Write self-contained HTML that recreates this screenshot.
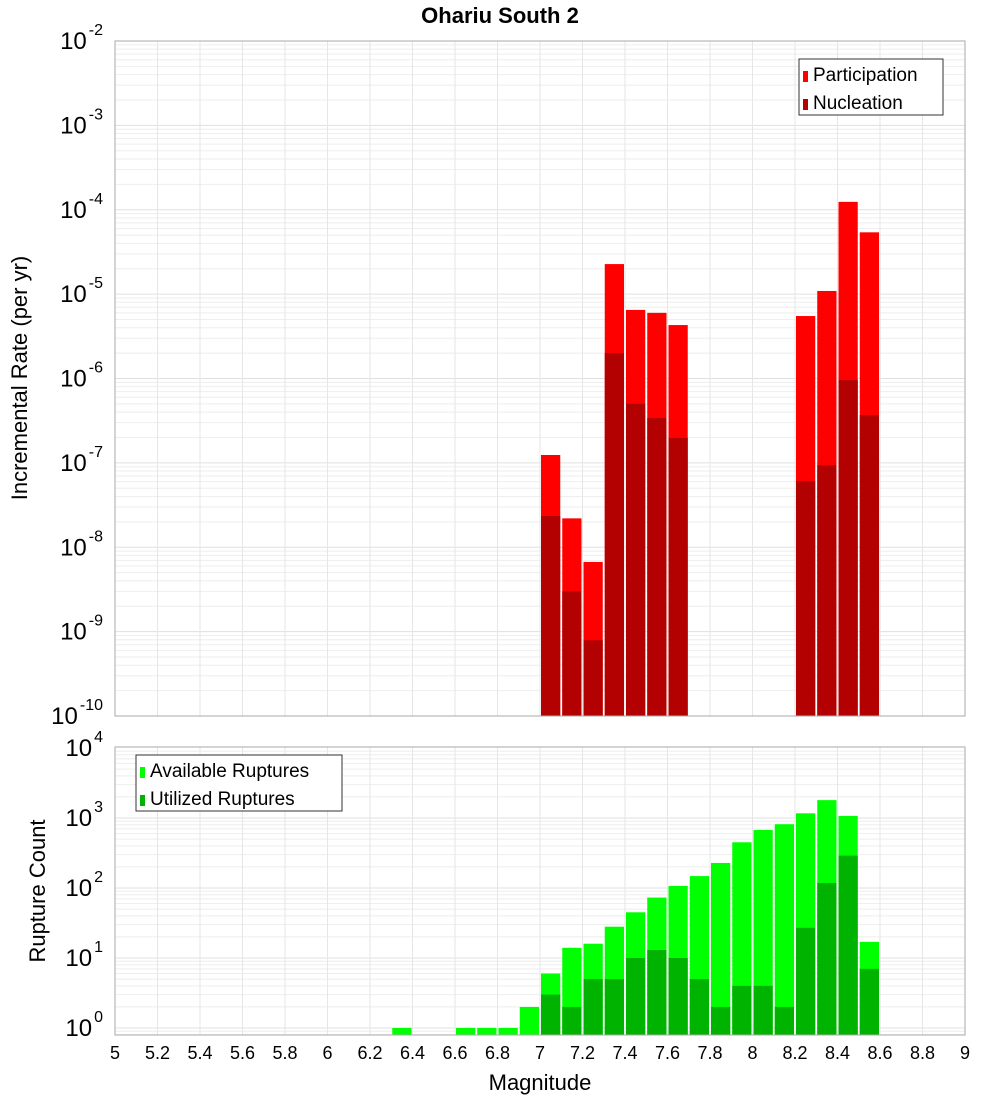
<!DOCTYPE html>
<html><head><meta charset="utf-8"><style>
body{margin:0;background:#fff;}
svg{display:block;font-family:"Liberation Sans","DejaVu Sans",sans-serif;}
</style></head><body>
<svg id="c" width="1000" height="1100" xmlns="http://www.w3.org/2000/svg">
<text x="500" y="23" text-anchor="middle" font-size="22" font-weight="bold">Ohariu South 2</text>
<g id="topPanel"></g><g id="botPanel"></g>
<text x="540" y="1090" text-anchor="middle" font-size="22">Magnitude</text>
<text transform="translate(27,378) rotate(-90)" text-anchor="middle" font-size="22">Incremental Rate (per yr)</text>
<text transform="translate(45,891) rotate(-90)" text-anchor="middle" font-size="22">Rupture Count</text>
</svg>
<script>
const mags=[6.35,6.65,6.75,6.85,6.95,7.05,7.15,7.25,7.35,7.45,7.55,7.65,7.75,7.85,7.95,8.05,8.15,8.25,8.35,8.45,8.55];
const available=[1,1,1,1,2,6,14,16,28,45,73,107,148,228,450,675,815,1167,1800,1070,17];
const utilized=[0,0,0,0,0,3,2,5,5,10,13,10,5,2,4,4,2,27,118,290,7];
const rateMags=[7.05,7.15,7.25,7.35,7.45,7.55,7.65,8.25,8.35,8.45,8.55];
const participation=[1.24e-7,2.2e-8,6.7e-9,2.27e-5,6.5e-6,6e-6,4.3e-6,5.5e-6,1.09e-5,1.24e-4,5.4e-5];
const nucleation=[2.35e-8,3.0e-9,7.9e-10,2.0e-6,5.0e-7,3.4e-7,1.97e-7,6.1e-8,9.4e-8,9.6e-7,3.7e-7];
const xTicks=[5,5.2,5.4,5.6,5.8,6,6.2,6.4,6.6,6.8,7,7.2,7.4,7.6,7.8,8,8.2,8.4,8.6,8.8,9];
const topExps=[-2,-3,-4,-5,-6,-7,-8,-9,-10];
const botExps=[0,1,2,3,4];
const NS="http://www.w3.org/2000/svg";
const L=115,R=965;
const xs=m=>L+(m-5)*(R-L)/4;
function mk(t,a,p){const e=document.createElementNS(NS,t);for(const k in a)e.setAttribute(k,a[k]);p.appendChild(e);return e;}
const yTop=v=>41+(-2-Math.log10(v))*84.375;
const yBot=v=>1028-Math.log10(v)*70;
function panel(g,y0,y1,yf,lo,hi){
  const bg=mk('rect',{x:L,y:y0,width:R-L,height:y1-y0,fill:'#fff'},g);
  
  for(let e=lo;e<hi;e++)for(let k=1;k<10;k++){const yy=yf(k*Math.pow(10,e));if(yy<y0||yy>y1)continue;
    const l=mk('line',{x1:L,x2:R,y1:yy,y2:yy,stroke:k==1?'#e0e0e0':'#eeeeee','stroke-width':1},g);
    }
  xTicks.forEach(t=>{const l=mk('line',{x1:xs(t),x2:xs(t),y1:y0,y2:y1,stroke:'#e6e6e6','stroke-width':1},g);
    });
}
function ylabel(g,yy,e,sz){const t=mk('text',{x:103,y:yy+8,'text-anchor':'end','font-size':sz},g);
  
  t.textContent='10';const s=mk('tspan',{dy:-14,'font-size':16,dx:2},t);s.textContent=e;}
function bar(g,m,v,yf,base,col,name){const yy=Math.max(yf(v),0);
  const r=mk('rect',{x:xs(m-0.05)+1,y:yy,width:(R-L)/40-2,height:base-yy,fill:col},g);
  }
const topG=document.getElementById('topPanel'),botG=document.getElementById('botPanel');
panel(topG,41,716,yTop,-10,-2);
rateMags.forEach((m,i)=>bar(topG,m,participation[i],yTop,716,'#ff0000','participation-bar'));
rateMags.forEach((m,i)=>bar(topG,m,nucleation[i],yTop,716,'#b30000','nucleation-bar'));
let f=mk('rect',{x:L,y:41,width:R-L,height:675,fill:'none',stroke:'#aaa'},topG);

topExps.forEach(e=>ylabel(topG,yTop(Math.pow(10,e)),e,24));
panel(botG,747,1035,yBot,-1,4);
mags.forEach((m,i)=>bar(botG,m,available[i],yBot,1035,'#00ff00','available-bar'));
mags.forEach((m,i)=>{if(utilized[i]>0)bar(botG,m,utilized[i],yBot,1035,'#00b300','utilized-bar');});
f=mk('rect',{x:L,y:747,width:R-L,height:288,fill:'none',stroke:'#aaa'},botG);

botExps.forEach(e=>ylabel(botG,yBot(Math.pow(10,e)),e,24));
xTicks.forEach(t=>{const tx=mk('text',{x:xs(t),y:1059,'text-anchor':'middle','font-size':18},botG);
  tx.textContent=String(t);});
function legend(g,lx,ly,w,items){const b=mk('rect',{x:lx,y:ly,width:w,height:56,fill:'#fff',stroke:'#333'},g);
  
  items.forEach((it,i)=>{const s=mk('rect',{x:lx+4,y:ly+12+i*28,width:5,height:11,fill:it[1]},g);
    
    const t=mk('text',{x:lx+14,y:ly+22+i*28,'font-size':19},g);
    t.textContent=it[0];});}
legend(topG,799,59,144,[['Participation','#ff0000'],['Nucleation','#b30000']]);
legend(botG,136,755,206,[['Available Ruptures','#00ff00'],['Utilized Ruptures','#00b300']]);
</script>
</body></html>
